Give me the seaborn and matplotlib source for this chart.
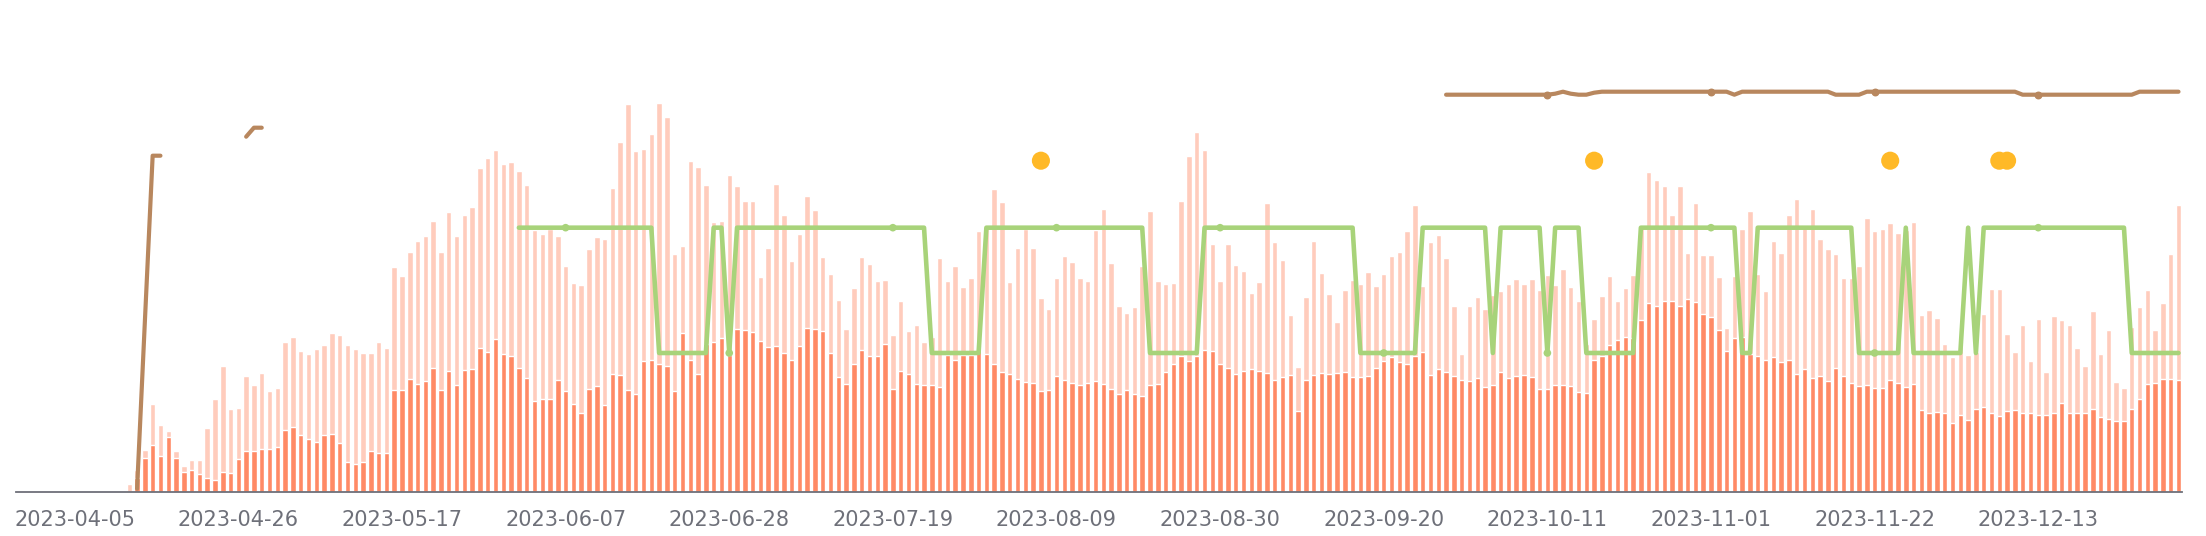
import matplotlib
matplotlib.use("Agg")
import matplotlib.pyplot as plt
import numpy as np
import pandas as pd
import seaborn as sns

# one category per day
days = pd.date_range("2023-03-29", "2023-12-31", freq="D")

# total (light bars)
light = [
    0, 0, 0, 0, 0, 0, 0, 0, 0, 0, 0, 0, 0, 0,
    8, 22, 42, 88, 67, 61, 41, 26, 32, 32, 64, 93, 126, 83, 84, 116, 107, 119,
    101, 104, 150, 155, 141, 138, 143, 147, 159, 157, 147, 143, 139, 139, 150, 144,
    225, 216, 240, 251, 256, 271, 240, 280, 256, 277, 285, 324, 334, 342, 328, 330,
    321, 307, 262, 258, 263, 256, 226, 209, 207, 243, 255, 253, 304, 350, 388, 341,
    343, 358, 389, 375, 238, 246, 331, 325, 307, 270, 271, 317, 306, 291, 291, 215,
    244, 308, 277, 231, 258, 296, 282, 235, 218, 192, 163, 204, 235, 228, 211, 212, 157,
    191, 161, 167, 150, 155, 234, 211, 226, 205, 214, 261, 267, 303, 290, 210, 244,
    263, 244, 194, 183, 214, 236, 230, 214, 211, 262, 283, 229, 186, 179, 185, 226, 281,
    211, 208, 209, 291, 336, 360, 342, 248, 211, 248, 227, 221, 199, 210, 289, 250, 232,
    177, 125, 195, 251, 219, 198, 170, 202, 212, 208, 220, 206, 218, 236, 240, 261, 287,
    206, 250, 257, 234, 186, 138, 186, 195, 183, 197, 201, 208, 213, 208, 213, 202,
    217, 207, 223, 205, 191, 148, 173, 196, 216, 191, 204, 217, 264, 320, 312, 306, 277,
    306, 239, 289, 237, 237, 215, 164, 216, 263, 281, 218, 201, 251, 239, 277, 293,
    267, 283, 253, 243, 238, 214, 214, 226, 274, 261, 263, 269, 259, 262, 270, 177, 182,
    174, 148, 135, 150, 137, 140, 178, 203, 203, 158, 140, 167, 131, 173, 120, 176,
    172, 167, 144, 126, 181, 138, 162, 110, 104, 165, 185, 202, 162, 189, 238, 287,
]

# part (dark bars)
dark = [
    0, 0, 0, 0, 0, 0, 0, 0, 0, 0, 0, 0, 0, 0,
    0, 14, 34, 47, 36, 55, 34, 20, 22, 18, 14, 12, 20, 19, 33, 41, 41, 43,
    43, 45, 62, 65, 57, 53, 50, 57, 58, 49, 30, 28, 30, 41, 39, 39,
    102, 102, 113, 108, 111, 124, 102, 121, 107, 122, 123, 144, 140, 153, 138, 136,
    124, 114, 91, 93, 93, 112, 101, 88, 79, 103, 106, 87, 118, 117, 102, 98,
    131, 132, 128, 126, 101, 159, 132, 118, 148, 150, 154, 137, 163, 162, 160, 151,
    145, 146, 139, 132, 146, 164, 163, 161, 139, 115, 108, 128, 142, 136, 136, 148, 103,
    121, 118, 108, 107, 107, 105, 137, 132, 137, 137, 146, 138, 128, 120, 118, 113,
    110, 109, 101, 102, 116, 112, 109, 107, 109, 111, 108, 103, 98, 102, 98, 96, 107,
    108, 120, 128, 136, 131, 136, 142, 141, 128, 124, 118, 121, 123, 121, 119, 112, 115,
    117, 81, 112, 117, 119, 118, 119, 120, 115, 115, 116, 124, 131, 135, 130, 128, 136,
    140, 117, 123, 120, 116, 112, 111, 114, 105, 107, 120, 114, 116, 117, 115, 103,
    103, 107, 107, 106, 100, 99, 132, 136, 147, 152, 155, 154, 172, 189, 186, 191, 191,
    186, 193, 190, 178, 175, 162, 141, 154, 155, 138, 136, 132, 135, 130, 132, 118,
    123, 114, 116, 111, 124, 116, 109, 106, 107, 104, 104, 112, 109, 105, 108, 82, 79,
    80, 79, 69, 77, 72, 83, 85, 79, 76, 81, 82, 79, 79, 77, 77, 79,
    89, 79, 79, 79, 83, 75, 73, 71, 71, 83, 93, 108, 109, 113, 113, 112,
]

# on/off state (green line), from 2023-06-01
green_start = "2023-06-01"
green = [
    1, 1, 1, 1, 1, 1, 1, 1, 1, 1, 1, 1, 1, 1, 1, 1, 1, 1,
    0, 0, 0, 0, 0, 0, 0, 1, 1, 0,
    1, 1, 1, 1, 1, 1, 1, 1, 1, 1, 1, 1, 1, 1, 1, 1, 1, 1, 1, 1, 1, 1, 1, 1, 1,
    0, 0, 0, 0, 0, 0, 0,
    1, 1, 1, 1, 1, 1, 1, 1, 1, 1, 1, 1, 1, 1, 1, 1, 1, 1, 1, 1, 1,
    0, 0, 0, 0, 0, 0, 0,
    1, 1, 1, 1, 1, 1, 1, 1, 1, 1, 1, 1, 1, 1, 1, 1, 1, 1, 1, 1,
    0, 0, 0, 0, 0, 0, 0, 0,
    1, 1, 1, 1, 1, 1, 1, 1, 1, 0, 1, 1, 1, 1, 1, 1, 0, 1, 1, 1, 1,
    0, 0, 0, 0, 0, 0, 0,
    1, 1, 1, 1, 1, 1, 1, 1, 1, 1, 1, 1, 1, 0, 0,
    1, 1, 1, 1, 1, 1, 1, 1, 1, 1, 1, 1, 1,
    0, 0, 0, 0, 0, 0, 1, 0, 0, 0, 0, 0, 0, 0, 1, 0,
    1, 1, 1, 1, 1, 1, 1, 1, 1, 1, 1, 1, 1, 1, 1, 1, 1, 1, 1,
    0, 0, 0, 0, 0, 0, 0,
]

# brown line, three pieces
brown_starts = ["2023-04-13", "2023-04-27", "2023-09-28"]
brown_pieces = [
    [3, 170, 336, 336],
    [355, 364, 364],
    [397, 397, 397, 397, 397, 397, 397, 397, 397, 397, 397, 397, 397, 397,
     398, 400, 398, 397, 397,
     399, 400, 400, 400, 400, 400, 400, 400, 400, 400, 400, 400, 400, 400, 400, 400, 400, 400,
     397, 400, 400, 400, 400, 400, 400, 400, 400, 400, 400, 400, 400,
     397, 397, 397, 397,
     400, 400, 400, 400, 400, 400, 400, 400, 400, 400, 400, 400, 400, 400, 400, 400, 400, 400, 400, 400,
     397, 397, 397, 397, 397, 397, 397, 397, 397, 397, 397, 397, 397, 397, 397,
     400, 400, 400, 400, 400, 400],
]

# highlighted days (yellow dots)
dot_days = ["2023-08-07", "2023-10-17", "2023-11-24", "2023-12-08", "2023-12-09"]
dot_value = 331

pos = np.arange(len(days))
axis_grey = "#6E7079"

sns.set_style("white")
plt.rcParams["font.family"] = ["DejaVu Sans"]

fig = plt.figure(figsize=(22.06, 5.36), dpi=100)
ax = fig.add_axes([16.3 / 2206, 44.3 / 536, 2166.1 / 2206, 491.7 / 536])

sns.barplot(x=pos, y=light, native_scale=True, color="#FFCCBC", saturation=1,
            width=0.7, errorbar=None, ax=ax, zorder=1)
sns.barplot(x=pos, y=dark, native_scale=True, color="#FF8A65", saturation=1,
            width=0.7, errorbar=None, ax=ax, zorder=2)

label_idx = np.arange(7, len(days), 21)

# green on/off line on its own axis
ax2 = ax.twinx()
g0 = days.get_loc(pd.Timestamp(green_start))
gx = pos[g0:g0 + len(green)]
sns.lineplot(x=gx, y=green, color="#A8D37A", linewidth=3.3, sort=False,
             estimator=None, ax=ax2)
gm = [i for i in label_idx if g0 <= i < g0 + len(green)]
sns.scatterplot(x=gm, y=[green[i - g0] for i in gm], color="#A8D37A", s=30,
                edgecolor="none", ax=ax2, zorder=5)
ax2.set_ylim(-1.107, 2.817)

# brown line
for start, vals in zip(brown_starts, brown_pieces):
    b0 = days.get_loc(pd.Timestamp(start))
    bx = pos[b0:b0 + len(vals)]
    sns.lineplot(x=bx, y=vals, color="#B8875E", linewidth=3.0, sort=False,
                 estimator=None, ax=ax2, transform=ax.transData)
    bm = [i for i in label_idx if b0 <= i < b0 + len(vals)]
    if bm:
        ax.scatter(bm, [vals[i - b0] for i in bm], color="#B8875E", s=22,
                   zorder=6)

# yellow dots
dx = [days.get_loc(pd.Timestamp(d)) for d in dot_days]
sns.scatterplot(x=dx, y=[dot_value] * len(dx), color="#FFB927", s=170,
                edgecolor="none", ax=ax, zorder=6)

for a in (ax, ax2):
    a.set_xlim(-0.5, len(days) - 0.5)
    a.set_yticks([])
    a.set_ylabel("")
    a.set_xlabel("")
    for s in ("top", "right", "left"):
        a.spines[s].set_visible(False)
ax2.spines["bottom"].set_visible(False)
ax.set_ylim(0, 491.7)
ax.spines["bottom"].set_color(axis_grey)
ax.spines["bottom"].set_linewidth(1.3)

ax.set_xticks(label_idx)
ax.set_xticklabels([days[i].strftime("%Y-%m-%d") for i in label_idx])
ax.set_xticks(list(label_idx - 0.5) + [len(days) - 0.5], minor=True)
ax.tick_params(axis="x", which="major", length=0, pad=13, labelsize=15,
               labelcolor=axis_grey)
ax.tick_params(axis="x", which="minor", length=6, width=1.3, color=axis_grey)

fig.savefig("out.png", dpi=100)
